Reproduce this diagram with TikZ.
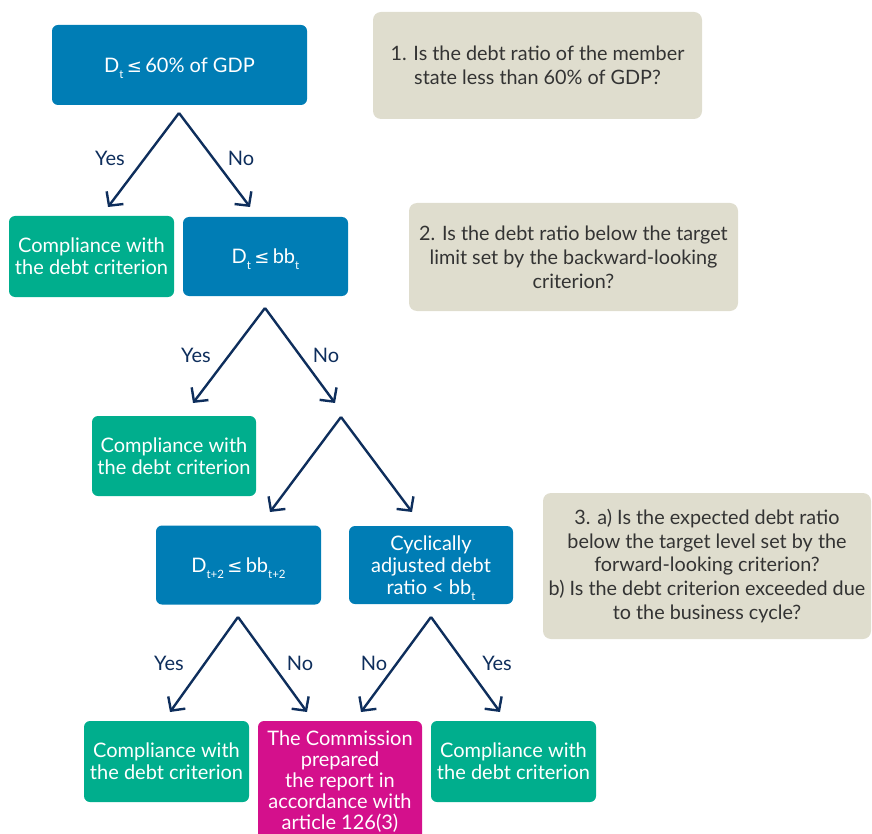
\documentclass[tikz,border=0pt]{standalone}
\usepackage{fontspec}
\setmainfont{Lato}
\newfontfamily\symfont{DejaVu Sans}
\usetikzlibrary{arrows.meta}
\definecolor{cblue}{HTML}{007DB5}
\definecolor{cgreen}{HTML}{00AE8D}
\definecolor{cmag}{HTML}{D4108C}
\definecolor{cgray}{HTML}{DFDDCE}
\definecolor{cnavy}{HTML}{0E2E5C}
\definecolor{ctext}{HTML}{333333}
\newcommand\subt[1]{\raisebox{-6pt}[0pt][0pt]{\fontsize{11.5}{11.5}\selectfont #1}}
\newcommand\leqs{{\symfont\fontsize{18}{18}\selectfont ≤}}
\tikzset{
  box/.style={rounded corners=6pt, align=center, inner sep=0pt, text=white,
    font=\fontsize{20}{22}\selectfont},
  bluebox/.style={box, fill=cblue},
  greenbox/.style={box, fill=cgreen, minimum width=165pt, minimum height=81pt},
  magbox/.style={box, fill=cmag},
  graybox/.style={rounded corners=8pt, align=center, inner sep=0pt, fill=cgray, text=ctext,
    font=\fontsize{19.8}{23.8}\selectfont},
  arr/.style={draw=cnavy, line width=2.4pt, -{Straight Barb[length=10pt,width=21pt,line width=2.4pt]}},
  lbl/.style={text=cnavy, font=\fontsize{20}{21}\selectfont, inner sep=0pt}
}
\begin{document}
\begin{tikzpicture}[x=1pt,y=-1pt]
\useasboundingbox (0,0) rectangle (872,834);
\clip (0,0) rectangle (872,834);
% boxes
\node[bluebox, minimum width=255pt, minimum height=80pt] (b1) at (179.5,65) {D\subt{t}\,\leqs\,60\% of GDP};
\node[greenbox] (g1) at (91.5,256.5) {Compliance with\\the debt criterion};
\node[bluebox, minimum width=165pt, minimum height=79pt] (b2) at (265.5,256.5) {D\subt{t}\,\leqs\,bb\subt{t}};
\node[greenbox, minimum width=164pt, minimum height=80pt] (g2) at (174,456) {Compliance with\\the debt criterion};
\node[bluebox, minimum width=165pt, minimum height=79pt] (b3) at (238.5,565) {D\subt{t+2}\,\leqs\,bb\subt{t+2}};
\node[bluebox, minimum width=164pt, minimum height=78pt] (b4) at (431,565) {Cyclically\\adjusted debt\\ratio < bb\subt{t}};
\node[greenbox] (g3) at (166.5,761.5) {Compliance with\\the debt criterion};
\node[magbox, minimum width=164pt, minimum height=122pt, font=\fontsize{20}{21}\selectfont] (m1) at (340,782) {The Commission\\prepared\\the report in\\accordance with\\article 126(3)};
\node[greenbox] (g4) at (513.5,761.5) {Compliance with\\the debt criterion};
% question boxes
\node[graybox, minimum width=329pt, minimum height=107pt] (q1) at (537.5,65.5) {1. Is the debt ratio of the member\\state less than 60\% of GDP?};
\node[graybox, minimum width=329pt, minimum height=108pt] (q2) at (573.5,257) {2. Is the debt ratio below the target\\limit set by the backward-looking\\criterion?};
\node[graybox, minimum width=328pt, minimum height=146pt] (q3) at (707,566) {3. a) Is the expected debt ratio\\below the target level set by the\\forward-looking criterion?\\b) Is the debt criterion exceeded due\\to the business cycle?};
% arrow points
\coordinate (a1) at (179,113);
\coordinate (a1l) at (108,207);
\coordinate (a1r) at (250,207);
\coordinate (a2) at (265,308);
\coordinate (a2l) at (193,403);
\coordinate (a2r) at (335,403);
\coordinate (a3) at (341,417);
\coordinate (a3l) at (270,512);
\coordinate (a3r) at (412,512);
\coordinate (a4) at (238,617);
\coordinate (a4l) at (170,712);
\coordinate (a4r) at (307,712);
\coordinate (a5) at (431,617);
\coordinate (a5l) at (361,712);
\coordinate (a5r) at (500,712);
\foreach \k in {1,...,5}{
  \draw[arr] (a\k) -- (a\k l);
  \draw[arr] (a\k) -- (a\k r);
}
% labels
\node[lbl] (y1) at (110,158) {Yes};
\node[lbl] (n1) at (241,158) {No};
\node[lbl] (y2) at (196,355) {Yes};
\node[lbl] (n2) at (326,355) {No};
\node[lbl] (y4) at (169,663) {Yes};
\node[lbl] (n4) at (300,663) {No};
\node[lbl] (n5) at (374,663) {No};
\node[lbl] (y5) at (497,663) {Yes};
\end{tikzpicture}
\end{document}
